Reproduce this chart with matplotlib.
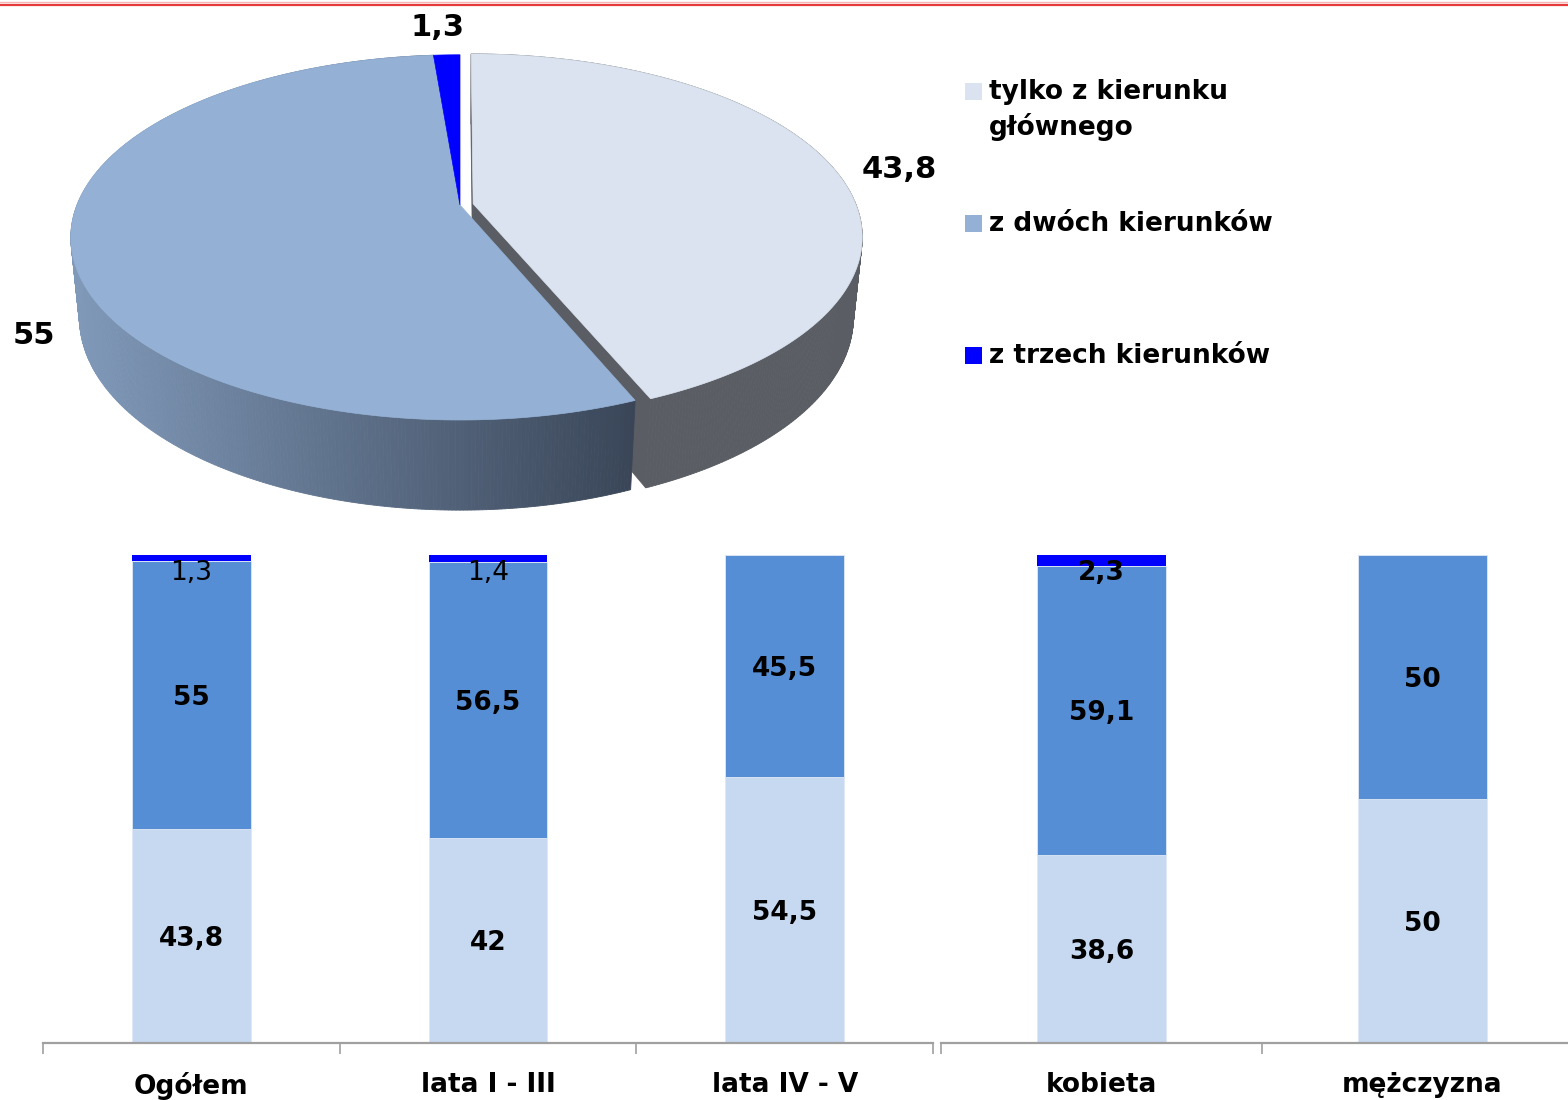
import matplotlib
matplotlib.use("Agg")
import numpy as np
import matplotlib.pyplot as plt
from matplotlib.patches import Polygon, Rectangle

# ---- data -------------------------------------------------------------
pie_labels = ["tylko z kierunku\ngłównego", "z dwóch kierunków", "z trzech kierunków"]
pie_values = [43.8, 55.0, 1.3]

groups_left = ["Ogółem", "lata I - III", "lata IV - V"]
groups_right = ["kobieta", "mężczyzna"]
only_main = [43.8, 42.0, 54.5, 38.6, 50.0]
two_fields = [55.0, 56.5, 45.5, 59.1, 50.0]
three_fields = [1.3, 1.4, 0.0, 2.3, 0.0]
three_label_weight = ["normal", "normal", "bold", "bold", "bold"]

# ---- style ------------------------------------------------------------
W, H = 1568, 1100
FONT = dict(family="DejaVu Sans", weight="bold")
pie_top = ["#dae3ef", "#94b1d5", "#0000ff"]
bar_cols = ["#c6d9f1", "#558ed5", "#0000ff"]
side_gray = "#5a5d63"


def fmt(v):
    return f"{v:g}".replace(".", ",")


fig = plt.figure(figsize=(W / 100, H / 100), dpi=100)
bg = fig.add_axes([0, 0, 1, 1])
bg.set_xlim(0, W)
bg.set_ylim(H, 0)
bg.axis("off")

# thin red rule at the top
bg.plot([0, W], [1.5, 1.5], color="#f2b6b6", lw=1.0)
bg.plot([0, W], [4.5, 4.5], color="#e5393b", lw=1.6)

# ---- 3D pie (perspective projection of a thick disc) ------------------
CX, CY, S, D = 460.0, 205.0, 383.0, 5.0
PHI = np.radians(27.5)
THICK = 0.238
EXPLODE = 0.035


def proj(X, Y, Z):
    yc = Y * np.sin(PHI) + Z * np.cos(PHI)
    depth = D + Y * np.cos(PHI) - Z * np.sin(PHI)
    return CX + S * X * D / depth, CY - S * yc * D / depth


shares = np.array(pie_values) / np.sum(pie_values)
edges = np.concatenate([[0.0], np.cumsum(shares)]) * 2 * np.pi


def slice_parts(i, off):
    a0, a1 = edges[i], edges[i + 1]
    t = np.linspace(a0, a1, max(8, int((a1 - a0) * 120)))
    ox, oy = off
    X, Y = ox + np.sin(t), oy + np.cos(t)
    return t, X, Y, ox, oy


def draw_wall(X, Y, color_fn):
    for k in range(len(X) - 1):
        p = [proj(X[k], Y[k], 0), proj(X[k + 1], Y[k + 1], 0),
             proj(X[k + 1], Y[k + 1], -THICK), proj(X[k], Y[k], -THICK)]
        c = color_fn(0.5 * (p[0][0] + p[1][0]))
        bg.add_patch(Polygon(p, closed=True, facecolor=c, edgecolor=c, lw=0.6))


def draw_radial(ox, oy, x, y, color):
    p = [proj(ox, oy, 0), proj(x, y, 0), proj(x, y, -THICK), proj(ox, oy, -THICK)]
    bg.add_patch(Polygon(p, closed=True, facecolor=color, edgecolor=color, lw=0.6))


def draw_top(X, Y, ox, oy, color):
    pts = [proj(ox, oy, 0)] + [proj(x, y, 0) for x, y in zip(X, Y)]
    bg.add_patch(Polygon(pts, closed=True, facecolor=color, edgecolor=color, lw=0.5))


# slice 0 - pulled out along its bisector
mid0 = 0.5 * (edges[0] + edges[1])
t, X, Y, ox, oy = slice_parts(0, (EXPLODE * np.sin(mid0), EXPLODE * np.cos(mid0)))
draw_wall(X, Y, lambda x: side_gray)
draw_radial(ox, oy, X[0], Y[0], side_gray)
draw_radial(ox, oy, X[-1], Y[-1], side_gray)
draw_top(X, Y, ox, oy, pie_top[0])

# slice 1 - side shaded with a horizontal gradient
c_left = np.array([128, 153, 185]) / 255
c_right = np.array([58, 70, 88]) / 255


def grad(x):
    f = np.clip((x - 72) / (635 - 72), 0, 1)
    return tuple(c_left + (c_right - c_left) * f)


t, X, Y, ox, oy = slice_parts(1, (0.0, 0.0))
draw_wall(X, Y, grad)
draw_top(X, Y, ox, oy, pie_top[1])

# slice 2
t, X, Y, ox, oy = slice_parts(2, (0.0, 0.0))
draw_top(X, Y, ox, oy, pie_top[2])

# pie value labels
pie_label_pos = [(899, 170), (34, 335), (438, 28)]
for v, (lx, ly) in zip(pie_values, pie_label_pos):
    bg.text(lx, ly, fmt(v), ha="center", va="center", fontsize=22, color="black", **FONT)

# legend
leg_y = [91, 223, 355]
for lab, col, y in zip(pie_labels, pie_top, leg_y):
    bg.add_patch(Rectangle((965, y - 8.5), 17, 17, facecolor=col, edgecolor="none"))
    bg.text(989, y - 12, lab, ha="left", va="top", fontsize=19, color="black",
            linespacing=1.35, **FONT)

# ---- stacked bars -----------------------------------------------------
def bar_panel(rect, names, sl):
    ax = fig.add_axes(rect)
    n = len(names)
    a = np.array(only_main[sl])
    b = np.array(two_fields[sl])
    c = np.array(three_fields[sl])
    tot = a + b + c
    a, b, c = a / tot * 100, b / tot * 100, c / tot * 100
    x = np.arange(n)
    ax.bar(x, a, width=0.4, color=bar_cols[0], edgecolor="#dfe8f5", lw=0.6)
    ax.bar(x, b, width=0.4, bottom=a, color=bar_cols[1], edgecolor="#dfe8f5", lw=0.6)
    ax.bar(x, c, width=0.4, bottom=a + b, color=bar_cols[2], lw=0)
    lab_a, lab_b, lab_c = only_main[sl], two_fields[sl], three_fields[sl]
    wts = three_label_weight[sl]
    for i in range(n):
        ax.text(x[i], a[i] / 2, fmt(lab_a[i]), ha="center", va="center_baseline",
                fontsize=19, **FONT)
        ax.text(x[i], a[i] + b[i] / 2, fmt(lab_b[i]), ha="center", va="center_baseline",
                fontsize=19, **FONT)
        if lab_c[i] > 0:
            ax.text(x[i], 100 - 3.0, fmt(lab_c[i]), ha="center", va="center_baseline",
                    fontsize=19, family="DejaVu Sans", weight=wts[i])
    ax.set_xlim(-0.5, n - 0.5)
    ax.set_ylim(0, 100)
    for s in ("top", "right", "left"):
        ax.spines[s].set_visible(False)
    ax.spines["bottom"].set_color("#a0a0a0")
    ax.spines["bottom"].set_linewidth(1.6)
    ax.set_yticks([])
    ax.set_xticks(np.arange(n + 1) - 0.5)
    ax.set_xticklabels([])
    ax.tick_params(axis="x", which="major", length=8, width=1.2, color="#a0a0a0")
    ax.set_xticks(x, minor=True)
    ax.set_xticklabels(names, minor=True, fontsize=19, **FONT)
    ax.tick_params(axis="x", which="minor", length=0, pad=21)
    ax.patch.set_alpha(0)
    return ax


bottom = 1 - 1043 / H
height = 488 / H
bar_panel([43 / W, bottom, (933 - 43) / W, height], groups_left, slice(0, 3))
bar_panel([941 / W, bottom, (1583 - 941) / W, height], groups_right, slice(3, 5))

fig.savefig("out.png", dpi=100)
